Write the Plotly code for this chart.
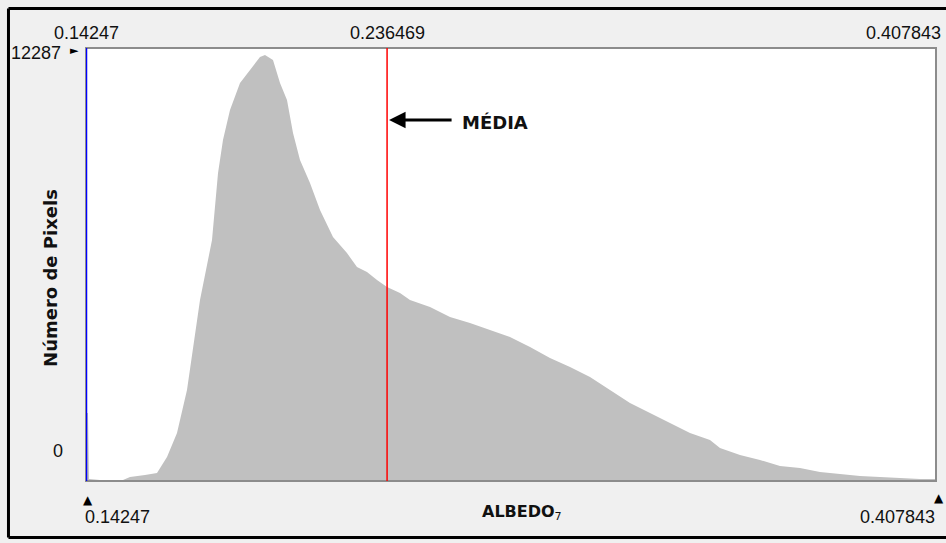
import plotly.graph_objects as go

# Histogram outline: albedo value -> number of pixels
albedo = [0.14247, 0.14309, 0.14341, 0.14684, 0.15402, 0.15621, 0.16089, 0.16464,
          0.16776, 0.17088, 0.17400, 0.17588, 0.17806, 0.18181, 0.18368, 0.18524,
          0.18743, 0.19055, 0.19367, 0.19679, 0.19835, 0.20085, 0.20304, 0.20522,
          0.20710, 0.20928, 0.21240, 0.21553, 0.21958, 0.22395, 0.22707, 0.23020,
          0.23332, 0.23644, 0.24050, 0.24362, 0.24987, 0.25611, 0.26235, 0.26860,
          0.27484, 0.28109, 0.28733, 0.29358, 0.29982, 0.30606, 0.31231, 0.31855,
          0.32480, 0.33104, 0.33728, 0.34040, 0.34665, 0.35289, 0.35914, 0.36538,
          0.37162, 0.37787, 0.38411, 0.39036, 0.39660, 0.40285, 0.40784]
pixels = [1960, 1960, 60, 30, 30, 115, 170, 230,
          690, 1385, 2625, 3780, 5220, 6950, 8880, 9835,
          10700, 11480, 11855, 12230, 12287, 12140, 11480, 10990,
          10035, 9260, 8595, 7815, 7035, 6575, 6170, 6030,
          5795, 5595, 5420, 5220, 5020, 4730, 4555, 4355,
          4155, 3865, 3545, 3290, 3000, 2625, 2250, 1960,
          1675, 1385, 1180, 950, 750, 605, 435, 375,
          260, 200, 145, 115, 85, 60, 60]

x_min = 0.14247
x_mean = 0.236469
x_max = 0.407843
y_max = 12287
y_min = 0

fig = go.Figure()
fig.add_trace(go.Scatter(
    x=albedo, y=pixels, mode="lines", fill="tozeroy",
    line=dict(width=0, color="#c0c0c0"), fillcolor="#c0c0c0",
    hoverinfo="skip", showlegend=False))

num_font = dict(family="Liberation Sans, Arial, sans-serif", size=18, color="#111111")
bold_font = dict(family="DejaVu Sans, Verdana, sans-serif", size=16, color="#111111")

shapes = [
    # plot frame
    dict(type="rect", xref="paper", yref="paper", x0=0, x1=1, y0=0, y1=1,
         line=dict(color="#8c8c8c", width=2), layer="above"),
    # min (blue) line
    dict(type="line", xref="x", yref="paper", x0=x_min, x1=x_min, y0=0, y1=1,
         line=dict(color="#0000ff", width=2.5), layer="above"),
    # mean (red) line
    dict(type="line", xref="x", yref="paper", x0=x_mean, x1=x_mean, y0=0, y1=1,
         line=dict(color="#ff0000", width=1.5), layer="above"),
    # outer black border: top, left and bottom sides only
    dict(type="line", xref="paper", yref="paper", x0=-0.0912, x1=1.0118, y0=1.0912, y1=1.0912,
         line=dict(color="#000000", width=3)),
    dict(type="line", xref="paper", yref="paper", x0=-0.0912, x1=-0.0912, y0=-0.1305, y1=1.0912,
         line=dict(color="#000000", width=3)),
    dict(type="line", xref="paper", yref="paper", x0=-0.0912, x1=1.0118, y0=-0.1305, y1=-0.1305,
         line=dict(color="#000000", width=3)),
]

annotations = [
    dict(text="0.14247", x=x_min, xref="x", y=1.0346, yref="paper",
         xanchor="center", yanchor="middle", showarrow=False, font=num_font),
    dict(text="0.236469", x=x_mean, xref="x", y=1.0346, yref="paper",
         xanchor="center", yanchor="middle", showarrow=False, font=num_font),
    dict(text="0.407843", x=1.0082, xref="paper", y=1.0346, yref="paper",
         xanchor="right", yanchor="middle", showarrow=False, font=num_font),
    dict(text="0.14247", x=-0.004, xref="paper", y=-0.0831, yref="paper",
         xanchor="left", yanchor="middle", showarrow=False, font=num_font),
    dict(text="0.407843", x=1.0012, xref="paper", y=-0.0831, yref="paper",
         xanchor="right", yanchor="middle", showarrow=False, font=num_font),
    dict(text="▲", x=x_min, xref="x", y=-0.044, yref="paper", xshift=2,
         xanchor="center", yanchor="middle", showarrow=False,
         font=dict(family="DejaVu Sans", size=12, color="#000")),
    dict(text="▲", x=x_max, xref="x", y=-0.039, yref="paper", xshift=3,
         xanchor="center", yanchor="middle", showarrow=False,
         font=dict(family="DejaVu Sans", size=12, color="#000")),
    dict(text=str(y_max), x=-0.027, xref="paper", y=y_max, yref="y", yshift=2,
         xanchor="right", yanchor="middle", showarrow=False, font=num_font),
    dict(text="►", x=-0.013, xref="paper", y=y_max, yref="y", yshift=5,
         xanchor="center", yanchor="middle", showarrow=False,
         font=dict(family="DejaVu Sans", size=11, color="#000")),
    dict(text=str(y_min), x=-0.0330, xref="paper", y=0.0693, yref="paper",
         xanchor="center", yanchor="middle", showarrow=False, font=num_font),
    dict(text="<b>ALBEDO</b><sub>7</sub>", x=0.513, xref="paper", y=-0.0739, yref="paper",
         xanchor="center", yanchor="middle", showarrow=False, font=bold_font),
    dict(text="<b>Número de Pixels</b>", x=-0.0412, xref="paper", y=0.469, yref="paper",
         xanchor="center", yanchor="middle", textangle=-90, showarrow=False,
         font=dict(family="DejaVu Sans, Verdana, sans-serif", size=18, color="#111111")),
    dict(text="<b>MÉDIA</b>", x=0.44, xref="paper", y=0.829, yref="paper",
         xanchor="left", yanchor="middle", showarrow=False,
         font=dict(family="DejaVu Sans, Verdana, sans-serif", size=18, color="#111111")),
    dict(text="", x=x_mean, xref="x", y=0.834, yref="paper", xshift=2,
         ax=64, ay=0, showarrow=True, arrowhead=2, arrowsize=1.1, arrowwidth=3,
         arrowcolor="#000000"),
]

fig.update_layout(
    width=946, height=543,
    margin=dict(l=86, r=10, t=48, b=62),
    paper_bgcolor="#f0f0f0", plot_bgcolor="#ffffff",
    xaxis=dict(range=[x_min, x_max], showgrid=False, zeroline=False,
               showticklabels=False, ticks="", fixedrange=True),
    yaxis=dict(range=[0, 12489], showgrid=False, zeroline=False,
               showticklabels=False, ticks="", fixedrange=True),
    shapes=shapes, annotations=annotations, showlegend=False,
)

fig.write_html("out.html")
